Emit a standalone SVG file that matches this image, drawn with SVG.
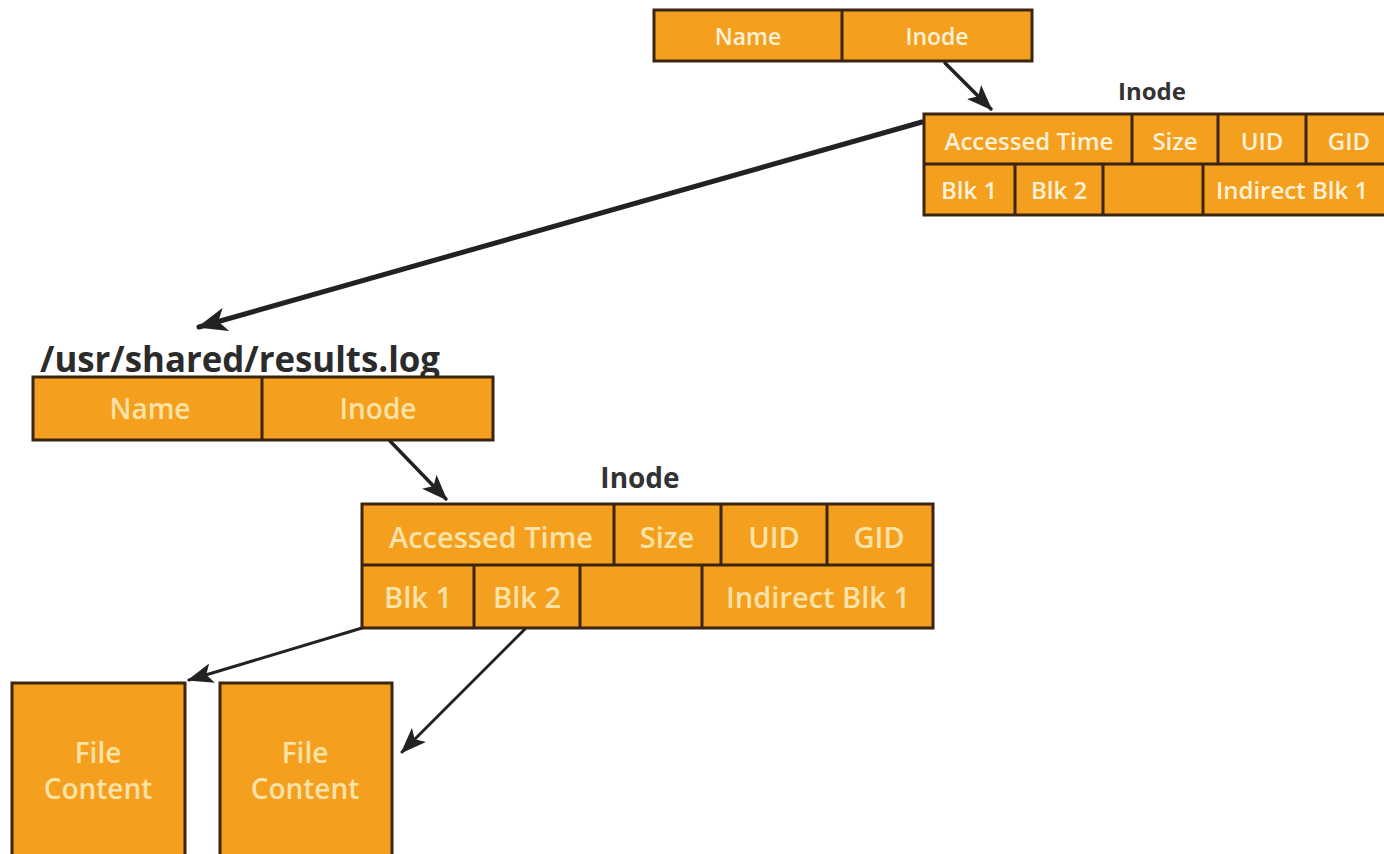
<svg xmlns="http://www.w3.org/2000/svg" width="1384" height="854" viewBox="0 0 1384 854">
<defs>
<style>
.box{fill:#F49F1E;stroke:#3B2510;stroke-width:3}
.cell{fill:none;stroke:#3B2510;stroke-width:3}
.t{font-family:"Open Sans","Noto Sans",sans-serif;font-weight:600;fill:#FFF1D6;text-anchor:middle}
.tb{font-family:"Open Sans","Noto Sans",sans-serif;font-weight:600;fill:#FBE2A6;text-anchor:middle}
.lbl{font-family:"Open Sans","Noto Sans",sans-serif;font-weight:bold;fill:#333333;text-anchor:middle}
.arr{stroke:#222222;fill:none;stroke-linecap:round}
</style>
<marker id="ah" viewBox="0 0 26 20" refX="24" refY="10" markerWidth="26" markerHeight="20" markerUnits="userSpaceOnUse" orient="auto">
<path d="M0,0 L26,10 L0,20 L6,10 Z" fill="#222222"/>
</marker>
<marker id="ahL" viewBox="0 0 30 24" refX="28" refY="12" markerWidth="30" markerHeight="24" markerUnits="userSpaceOnUse" orient="auto">
<path d="M0,0 L30,12 L0,24 L8,12 Z" fill="#222222"/>
</marker>
</defs>
<rect width="1384" height="854" fill="#FFFFFF"/>

<g id="connectors">
<line class="arr" x1="945" y1="63" x2="991" y2="109" stroke-width="3.5" marker-end="url(#ah)"/>
<line class="arr" x1="922" y1="122" x2="199" y2="327" stroke-width="5" marker-end="url(#ahL)"/>
<line class="arr" x1="390" y1="441" x2="446" y2="499" stroke-width="3.5" marker-end="url(#ah)"/>
<line class="arr" x1="362" y1="628" x2="189" y2="680" stroke-width="3" marker-end="url(#ah)"/>
<line class="arr" x1="525" y1="629" x2="402" y2="752" stroke-width="3" marker-end="url(#ah)"/>
</g>

<g id="top-dirent">
<rect class="box" x="654" y="10" width="378" height="51"/>
<line class="cell" x1="842" y1="10" x2="842" y2="61"/>
<text class="t" x="748" y="45" font-size="23">Name</text>
<text class="t" x="937" y="45" font-size="23">Inode</text>
</g>

<g id="top-inode">
<text class="lbl" x="1152" y="100" font-size="24">Inode</text>
<rect class="box" x="924" y="114" width="470" height="101"/>
<line class="cell" x1="924" y1="164" x2="1394" y2="164"/>
<line class="cell" x1="1132" y1="114" x2="1132" y2="164"/>
<line class="cell" x1="1218" y1="114" x2="1218" y2="164"/>
<line class="cell" x1="1306" y1="114" x2="1306" y2="164"/>
<line class="cell" x1="1015" y1="164" x2="1015" y2="215"/>
<line class="cell" x1="1103" y1="164" x2="1103" y2="215"/>
<line class="cell" x1="1203" y1="164" x2="1203" y2="215"/>
<text class="t" x="1029" y="150" font-size="24">Accessed Time</text>
<text class="t" x="1175" y="150" font-size="24">Size</text>
<text class="t" x="1262" y="150" font-size="24">UID</text>
<text class="t" x="1349" y="150" font-size="24">GID</text>
<text class="t" x="969" y="199" font-size="24">Blk 1</text>
<text class="t" x="1059" y="199" font-size="24">Blk 2</text>
<text class="t" x="1292" y="199" font-size="24">Indirect Blk 1</text>
</g>

<g id="path-label">
<text x="40" y="372" font-family="'Open Sans','Noto Sans',sans-serif" font-weight="bold" font-size="36" fill="#2B2B2B" textLength="400" lengthAdjust="spacingAndGlyphs">/usr/shared/results.log</text>
</g>

<g id="bottom-dirent">
<rect class="box" x="33" y="377" width="460" height="63"/>
<line class="cell" x1="262" y1="377" x2="262" y2="440"/>
<text class="tb" x="150" y="419" font-size="28">Name</text>
<text class="tb" x="378" y="419" font-size="28">Inode</text>
</g>

<g id="bottom-inode">
<text class="lbl" x="640" y="488" font-size="28">Inode</text>
<rect class="box" x="362" y="504" width="571" height="124"/>
<line class="cell" x1="362" y1="565" x2="933" y2="565"/>
<line class="cell" x1="614" y1="504" x2="614" y2="565"/>
<line class="cell" x1="721" y1="504" x2="721" y2="565"/>
<line class="cell" x1="827" y1="504" x2="827" y2="565"/>
<line class="cell" x1="474" y1="565" x2="474" y2="628"/>
<line class="cell" x1="580" y1="565" x2="580" y2="628"/>
<line class="cell" x1="702" y1="565" x2="702" y2="628"/>
<text class="tb" x="491" y="548" font-size="29">Accessed Time</text>
<text class="tb" x="667" y="548" font-size="29">Size</text>
<text class="tb" x="774" y="548" font-size="29">UID</text>
<text class="tb" x="879" y="548" font-size="29">GID</text>
<text class="tb" x="418" y="608" font-size="29">Blk 1</text>
<text class="tb" x="527" y="608" font-size="29">Blk 2</text>
<text class="tb" x="818" y="608" font-size="29">Indirect Blk 1</text>
</g>

<g id="file-content-1">
<rect class="box" x="12" y="683" width="173" height="180"/>
<text class="tb" x="98" y="763" font-size="28">File</text>
<text class="tb" x="98" y="799" font-size="28">Content</text>
</g>

<g id="file-content-2">
<rect class="box" x="220" y="683" width="172" height="180"/>
<text class="tb" x="305" y="763" font-size="28">File</text>
<text class="tb" x="305" y="799" font-size="28">Content</text>
</g>
</svg>
